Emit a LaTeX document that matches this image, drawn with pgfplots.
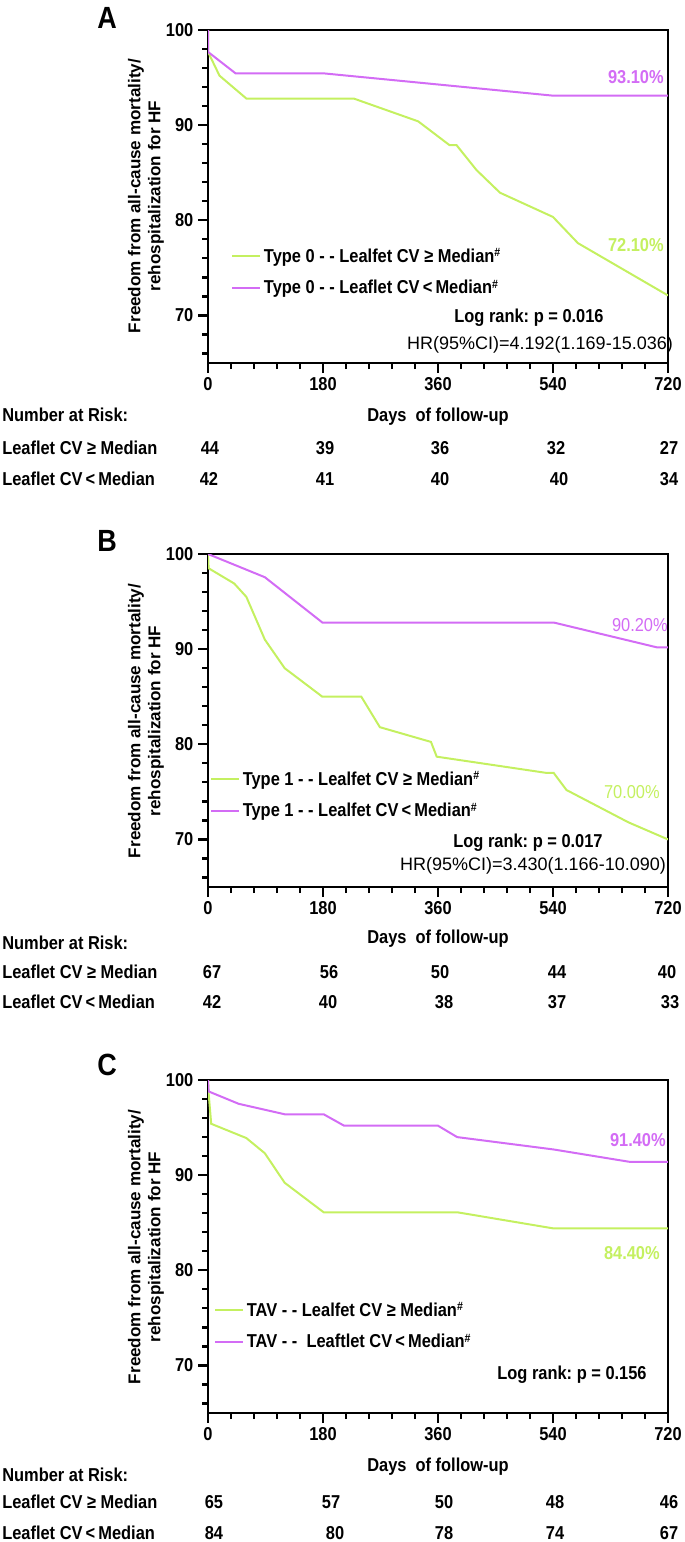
\documentclass[border=0pt]{standalone}
\usepackage{pgfplots}
\pgfplotsset{compat=1.18}
\usepackage{fontspec}
\setmainfont{Liberation Sans}[FakeStretch=0.88]
\newfontfamily\ylfont{Liberation Sans}
\definecolor{kmgreen}{RGB}{196,240,96}
\definecolor{kmpurple}{RGB}{211,108,245}
\newcommand\f{\bfseries\fontsize{14}{16}\selectfont}
\newcommand\sh{\raisebox{0.55ex}{\fontsize{9}{9}\selectfont\#}}
\frenchspacing
\pgfplotsset{kmaxis/.style={
  width=345pt, height=249.75pt, scale only axis,
  xmin=0, xmax=720, ymin=65, ymax=100,
  xtick={0,180,360,540,720},
  minor xtick={36,72,108,144,216,252,288,324,396,432,468,504,576,612,648,684},
  ytick={70,80,90,100},
  minor ytick={66,68,72,74,76,78,82,84,86,88,92,94,96,98},
  tick align=outside, xtick pos=left, ytick pos=left,
  major tick length=7.5pt, minor tick length=4.5pt,
  tick style={line width=1.7pt, black},
  axis line style={line width=2.1pt},
  tick label style={font=\f},
  /pgf/number format/assume math mode=true,
  legend cell align=left,
  legend image code/.code={\draw[##1] (0pt,0pt) -- (17pt,0pt); \path (0pt,0pt) -- (21pt,0pt);},
  legend style={draw=none, fill=none, anchor=west, inner sep=0pt, font=\f, row sep=8pt},
}}
\begin{document}
\begin{tikzpicture}
\path[use as bounding box] (0pt,0pt) rectangle (513.75pt,-1156.5pt);
% ---------------- Panel A
\begin{axis}[kmaxis, at={(156pt,-272.25pt)}, anchor=south west,
  legend style={at={(0.05,0.273)}}]
\addplot[kmgreen, line width=1.5pt] coordinates {(0,100) (0,97.7) (18,95.2) (60,92.8) (228,92.8) (329,90.4) (378,87.9) (389,87.9) (420,85.3) (457,82.9) (540,80.35) (579,77.6) (720,72.1)};
\addlegendentry{Type 0 - - Lealfet CV ≥ Median\sh}
\addplot[kmpurple, line width=1.5pt] coordinates {(0,100) (0,97.7) (43,95.45) (180,95.45) (540,93.1) (720,93.1)};
\addlegendentry{Type 0 - - Leaflet CV\,<\,Median\sh}
\end{axis}
% ---------------- Panel B
\begin{axis}[kmaxis, at={(156pt,-665.25pt)}, anchor=south west,
  legend style={at={(0.004,0.276)}}]
\addplot[kmgreen, line width=1.5pt] coordinates {(0,100) (1,98.5) (41,96.9) (60,95.5) (89,91.0) (120,88.0) (179,85.0) (240,85.0) (269,81.8) (349,80.25) (358,78.7) (529,77.0) (541,77.0) (561,75.2) (658,71.8) (720,70.0)};
\addlegendentry{Type 1 - - Lealfet CV ≥ Median\sh}
\addplot[kmpurple, line width=1.5pt] coordinates {(0,100) (89,97.56) (179,92.8) (541,92.8) (702,90.2) (720,90.2)};
\addlegendentry{Type 1 - - Lealfet CV\,<\,Median\sh}
\end{axis}
% ---------------- Panel C
\begin{axis}[kmaxis, at={(156pt,-1059.75pt)}, anchor=south west,
  legend style={at={(0.013,0.261)}}]
\addplot[kmgreen, line width=1.5pt] coordinates {(0,100) (1,98.6) (5,95.4) (60,93.9) (89,92.3) (120,89.2) (181,86.1) (390,86.1) (541,84.4) (720,84.4)};
\addlegendentry{TAV - - Lealfet CV ≥ Median\sh}
\addplot[kmpurple, line width=1.5pt] coordinates {(0,100) (1,98.8) (48,97.5) (120,96.4) (181,96.4) (213,95.2) (360,95.2) (390,94.0) (541,92.7) (660,91.4) (720,91.4)};
\addlegendentry{TAV - -\ \ Leaftlet CV\,<\,Median\sh}
\end{axis}
% ---------------- texts (px coordinates)
\begin{scope}[x=0.75pt, y=-0.75pt, every node/.style={font=\f, inner sep=0pt}]
\foreach \L/\yy/\ya in {A/17.5/196, B/541/721, C/1065/1247}{
  \node[font=\bfseries\fontsize{23}{26}\selectfont] at (107,\yy) {\L};
  \node[rotate=90, align=center, font=\ylfont\bfseries\fontsize{12.8}{15}\selectfont] at (146,\ya) {Freedom from all-cause mortality/\\rehospitalization for HF};
}
% A
\node[anchor=east, text=kmpurple] at (664,77) {93.10\%};
\node[anchor=east, text=kmgreen] at (664,245) {72.10\%};
\node at (529,318) {Log rank: p = 0.016};
\node[font=\ylfont\mdseries\fontsize{13.5}{16}\selectfont] at (540,345) {HR(95\%CI)=4.192(1.169-15.036)};
\node at (438,417) {Days\ \ of follow-up};
\node[anchor=west] at (2,415) {Number at Risk:};
\node[anchor=west] at (2,448) {Leaflet CV ≥ Median};
\node[anchor=west] at (2,479) {Leaflet CV\,<\,Median};
\node at (210,448) {44}; \node at (325,448) {39}; \node at (440,448) {36}; \node at (556,448) {32}; \node at (669,448) {27};
\node at (209,479) {42}; \node at (325,479) {41}; \node at (440,479) {40}; \node at (559,479) {40}; \node at (669,479) {34};
% B
\node[anchor=east, text=kmpurple, font=\mdseries\fontsize{14}{16}\selectfont] at (668,625) {90.20\%};
\node[anchor=east, text=kmgreen, font=\mdseries\fontsize{14}{16}\selectfont] at (660,792) {70.00\%};
\node at (528,843) {Log rank: p = 0.017};
\node[font=\ylfont\mdseries\fontsize{13.5}{16}\selectfont] at (533,866) {HR(95\%CI)=3.430(1.166-10.090)};
\node at (438,939) {Days\ \ of follow-up};
\node[anchor=west] at (2,943) {Number at Risk:};
\node[anchor=west] at (2,972) {Leaflet CV ≥ Median};
\node[anchor=west] at (2,1002) {Leaflet CV\,<\,Median};
\node at (212,972) {67}; \node at (329,972) {56}; \node at (440,972) {50}; \node at (557,972) {44}; \node at (667,972) {40};
\node at (212,1002) {42}; \node at (328,1002) {40}; \node at (444,1002) {38}; \node at (557,1002) {37}; \node at (670,1002) {33};
% C
\node[anchor=east, text=kmpurple] at (666,1140) {91.40\%};
\node[anchor=east, text=kmgreen] at (660,1253) {84.40\%};
\node at (572,1375) {Log rank: p = 0.156};
\node at (438,1467) {Days\ \ of follow-up};
\node[anchor=west] at (2,1475) {Number at Risk:};
\node[anchor=west] at (2,1502) {Leaflet CV ≥ Median};
\node[anchor=west] at (2,1533) {Leaflet CV\,<\,Median};
\node at (214,1502) {65}; \node at (331,1502) {57}; \node at (444,1502) {50}; \node at (555,1502) {48}; \node at (669,1502) {46};
\node at (214,1533) {84}; \node at (335,1533) {80}; \node at (444,1533) {78}; \node at (555,1533) {74}; \node at (669,1533) {67};
\end{scope}
\end{tikzpicture}
\end{document}
